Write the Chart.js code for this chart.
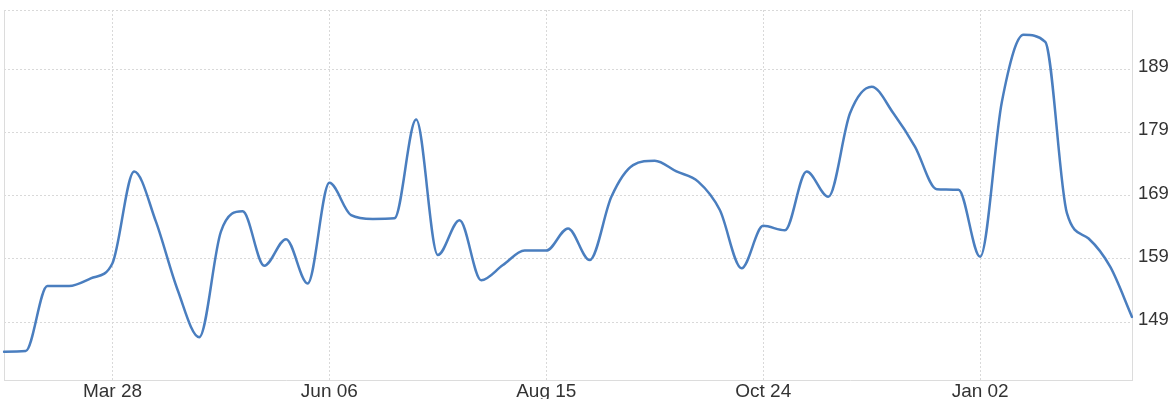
<!DOCTYPE html>
<html>
<head>
<meta charset="utf-8">
<script src="https://cdn.jsdelivr.net/npm/chart.js@4"></script>
<style>
  html, body { margin: 0; padding: 0; background: #fff; }
  #wrap { width: 1175px; height: 399px; position: relative; }
</style>
</head>
<body>
<div id="wrap"><canvas id="PriceChart"></canvas></div>
<script>
(function () {
  "use strict";

  // Weekly dates (category axis)
  const weeks = [
    'Feb 21', 'Feb 28', 'Mar 07', 'Mar 14', 'Mar 21', 'Mar 28', 'Apr 04', 'Apr 11', 'Apr 18', 'Apr 25',
    'May 02', 'May 09', 'May 16', 'May 23', 'May 30', 'Jun 06', 'Jun 13', 'Jun 20', 'Jun 27', 'Jul 04',
    'Jul 11', 'Jul 18', 'Jul 25', 'Aug 01', 'Aug 08', 'Aug 15', 'Aug 22', 'Aug 29', 'Sep 05', 'Sep 12',
    'Sep 19', 'Sep 26', 'Oct 03', 'Oct 10', 'Oct 17', 'Oct 24', 'Oct 31', 'Nov 07', 'Nov 14', 'Nov 21',
    'Nov 28', 'Dec 05', 'Dec 12', 'Dec 19', 'Dec 26', 'Jan 02', 'Jan 09', 'Jan 16', 'Jan 23', 'Jan 30',
    'Feb 06', 'Feb 13', 'Feb 20'
  ];

  // Values
  const prices = [
    144.3, 144.4, 154.7, 154.7, 155.9, 158.3, 172.8, 164.9, 154.1, 146.6,
    163.3, 166.5, 157.9, 162.1, 155.1, 171.0, 165.9, 165.3, 165.4, 181.0,
    159.6, 165.1, 155.6, 158.0, 160.3, 160.3, 163.8, 158.8, 168.8, 173.8,
    174.5, 172.8, 171.2, 166.7, 157.5, 164.2, 163.5, 172.8, 168.8, 182.0,
    186.2, 182.0, 176.7, 170.0, 169.9, 159.3, 183.8, 194.4, 193.3, 166.2,
    162.2, 157.7, 149.8
  ];

  // Axis labels
  const xTickLabels = ['Mar 28', 'Jun 06', 'Aug 15', 'Oct 24', 'Jan 02'];
  const yTicks = [149, 159, 169, 179, 189];
  const yMin = 139.83;
  const yMax = 198.33;

  // Colors
  const line_blue  = '#4a7ebf';
  const grid_gray  = '#d9d9d9';
  const axis_gray  = '#dcdcdc';
  const text_dark  = '#333333';

  const fontFamily = '"Liberation Sans", Arial, sans-serif';

  // strip the automatic label padding so the plot area sits where we want it
  function noPad(scale) {
    scale.paddingTop = 0;
    scale.paddingBottom = 0;
    scale.paddingLeft = 0;
    scale.paddingRight = 0;
  }

  const ctx = document.getElementById('PriceChart').getContext('2d');
  new Chart(ctx, {
    type: 'line',
    data: {
      labels: weeks,
      datasets: [{
        label: 'Price',
        data: prices,
        borderColor: line_blue,
        backgroundColor: line_blue,
        borderWidth: 2.5,
        pointRadius: 0,
        fill: false,
        cubicInterpolationMode: 'monotone',
        borderCapStyle: 'round',
        borderJoinStyle: 'round'
      }]
    },
    options: {
      responsive: true,
      maintainAspectRatio: false,
      animation: false,
      layout: { padding: { top: 10, left: 0, right: 0, bottom: 0 } },
      plugins: {
        legend: { display: false },
        tooltip: { enabled: false }
      },
      scales: {
        x: {
          offset: false,
          grid: {
            drawTicks: false,
            color: function (c) {
              const lab = weeks[c.index];
              return xTickLabels.indexOf(lab) >= 0 ? grid_gray : 'rgba(0,0,0,0)';
            }
          },
          border: { display: true, color: axis_gray, width: 1, dash: [2, 2] },
          ticks: {
            autoSkip: false,
            maxRotation: 0,
            padding: 0,
            color: text_dark,
            font: { family: fontFamily, size: 19 },
            callback: function (value, index) {
              const lab = weeks[index];
              return xTickLabels.indexOf(lab) >= 0 ? lab : '';
            }
          },
          afterFit: function (scale) { scale.height = 19; noPad(scale); }
        },
        y: {
          position: 'right',
          min: yMin,
          max: yMax,
          afterBuildTicks: function (scale) {
            scale.ticks = yTicks.map(function (v) { return { value: v }; }).concat([{ value: yMax }]);
          },
          grid: { drawTicks: false, color: grid_gray },
          border: { display: true, color: axis_gray, width: 1, dash: [2, 2] },
          ticks: {
            padding: 6,
            labelOffset: -2,
            color: text_dark,
            font: { family: fontFamily, size: 18.5 },
            callback: function (value) {
              return yTicks.indexOf(value) >= 0 ? String(value) : '';
            }
          },
          afterFit: function (scale) { scale.width = 43; noPad(scale); }
        },
        yLeft: {
          position: 'left',
          min: yMin,
          max: yMax,
          grid: { display: false, drawTicks: false },
          border: { display: true, color: axis_gray, width: 1 },
          ticks: { display: false },
          afterFit: function (scale) { scale.width = 4; noPad(scale); }
        }
      }
    }
  });
})();
</script>
</body>
</html>
